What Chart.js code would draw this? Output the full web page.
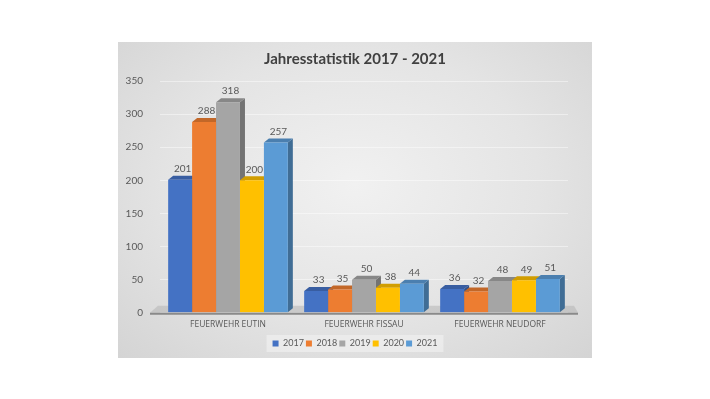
<!DOCTYPE html>
<html>
<head>
<meta charset="utf-8">
<script src="https://cdn.jsdelivr.net/npm/chart.js@4"></script>
<style>
  body { margin: 0; background: #fff; }
  #panel {
    position: absolute; left: 118px; top: 42px; width: 474px; height: 316px;
    background: radial-gradient(ellipse at 50% 45%, #f1f1f1 0%, #e4e4e4 55%, #d4d4d4 100%);
  }
  canvas { display: block; }
</style>
</head>
<body>
<div id="panel"><canvas id="chart" width="474" height="316"></canvas></div>
<script>
const categories = ["FEUERWEHR EUTIN", "FEUERWEHR FISSAU", "FEUERWEHR NEUDORF"];
const years = ["2017", "2018", "2019", "2020", "2021"];
const v2017 = [201, 33, 36];
const v2018 = [288, 35, 32];
const v2019 = [318, 50, 48];
const v2020 = [200, 38, 49];
const v2021 = [257, 44, 51];
const yTicks = [0, 50, 100, 150, 200, 250, 300, 350];

const colors = ["#4472C4", "#ED7D31", "#A5A5A5", "#FFC000", "#5B9BD5"];
const values = [v2017, v2018, v2019, v2020, v2021];
const FONT = "Lato, 'Open Sans', sans-serif";
const DX = 5, DY = 4;

// darken a hex colour
function shade(hex, f) {
  const n = parseInt(hex.slice(1), 16);
  const r = Math.round(((n >> 16) & 255) * f);
  const g = Math.round(((n >> 8) & 255) * f);
  const b = Math.round((n & 255) * f);
  return `rgb(${r},${g},${b})`;
}

// fake 3D: floor, side + top faces, axis line, value labels, legend backdrop
const bars3d = {
  id: "bars3d",
  beforeDatasetsDraw(chart) {
    const ctx = chart.ctx, area = chart.chartArea;
    const base = chart.scales.y.getPixelForValue(0);
    ctx.save();
    // floor
    ctx.fillStyle = "rgba(180,180,180,0.55)";
    ctx.beginPath();
    ctx.moveTo(area.left - 10, base);
    ctx.lineTo(area.right + 10, base);
    ctx.lineTo(area.right + 10 - 4, base - 7);
    ctx.lineTo(area.left - 2, base - 7);
    ctx.closePath();
    ctx.fill();
    chart.data.datasets.forEach((ds, i) => {
      const meta = chart.getDatasetMeta(i);
      meta.data.forEach(bar => {
        const l = bar.x - bar.width / 2, r = bar.x + bar.width / 2;
        // side
        ctx.fillStyle = shade(colors[i], 0.7);
        ctx.beginPath();
        ctx.moveTo(r, bar.y);
        ctx.lineTo(r + DX, bar.y - DY);
        ctx.lineTo(r + DX, bar.base - DY);
        ctx.lineTo(r, bar.base);
        ctx.closePath();
        ctx.fill();
        // top
        ctx.fillStyle = shade(colors[i], 0.82);
        ctx.beginPath();
        ctx.moveTo(l, bar.y);
        ctx.lineTo(l + DX, bar.y - DY);
        ctx.lineTo(r + DX, bar.y - DY);
        ctx.lineTo(r, bar.y);
        ctx.closePath();
        ctx.fill();
      });
    });
    ctx.restore();
  },
  afterDatasetsDraw(chart) {
    const ctx = chart.ctx, area = chart.chartArea;
    const base = chart.scales.y.getPixelForValue(0);
    ctx.save();
    // axis line
    ctx.strokeStyle = "#8a8a8a";
    ctx.lineWidth = 2;
    ctx.beginPath();
    ctx.moveTo(area.left - 10, base + 1);
    ctx.lineTo(area.right + 10, base + 1);
    ctx.stroke();
    // value labels
    ctx.font = "10px " + FONT;
    ctx.fillStyle = "#595959";
    ctx.textAlign = "center";
    ctx.textBaseline = "bottom";
    chart.data.datasets.forEach((ds, i) => {
      chart.getDatasetMeta(i).data.forEach((bar, j) => {
        ctx.fillText(ds.data[j], bar.x + DX / 2, bar.y - DY - 2);
      });
    });
    ctx.restore();
  },
  beforeDraw(chart) {
    const lg = chart.legend;
    if (!lg || !lg.legendHitBoxes || !lg.legendHitBoxes.length) return;
    const hb = lg.legendHitBoxes;
    const first = hb[0], last = hb[hb.length - 1];
    const ctx = chart.ctx;
    ctx.save();
    ctx.fillStyle = "rgba(240,240,240,0.7)";
    ctx.fillRect(first.left - 6, first.top - 4, last.left + last.width - first.left + 12, first.height + 8);
    ctx.restore();
  }
};

new Chart(document.getElementById("chart"), {
  type: "bar",
  data: {
    labels: categories,
    datasets: years.map((y, i) => ({
      label: y,
      data: values[i],
      backgroundColor: colors[i],
      borderWidth: 0,
      categoryPercentage: 0.88,
      barPercentage: 1.0
    }))
  },
  options: {
    responsive: false,
    animation: false,
    layout: { padding: { left: 0, right: 0, top: 0, bottom: 0 } },
    plugins: {
      title: {
        display: true,
        text: "Jahresstatistik 2017 - 2021",
        color: "#404040",
        font: { family: FONT, size: 15, weight: "bold" },
        padding: { top: 8, bottom: 13 }
      },
      legend: {
        position: "bottom",
        labels: {
          color: "#595959",
          font: { family: FONT, size: 9 },
          boxWidth: 6,
          boxHeight: 6,
          padding: 2
        }
      },
      tooltip: { enabled: false }
    },
    scales: {
      x: {
        grid: { display: false, drawTicks: false },
        border: { display: false },
        ticks: { color: "#595959", font: { family: "'Open Sans', sans-serif", size: 8.5 }, padding: 7 }
      },
      y: {
        min: 0,
        max: 350,
        afterBuildTicks: s => { s.ticks = yTicks.map(v => ({ value: v })); },
        afterFit: s => { s.width = 42; },
        grid: { color: "rgba(255,255,255,0.45)", drawTicks: false },
        border: { display: false },
        ticks: { color: "#595959", font: { family: FONT, size: 10 }, padding: 17 }
      },
      // empty right-hand strip so the plot ends where the reference does
      pad: {
        position: "right",
        afterFit: s => { s.width = 24; },
        grid: { display: false, drawTicks: false },
        border: { display: false },
        ticks: { display: false }
      }
    }
  },
  plugins: [bars3d]
});
</script>
</body>
</html>
